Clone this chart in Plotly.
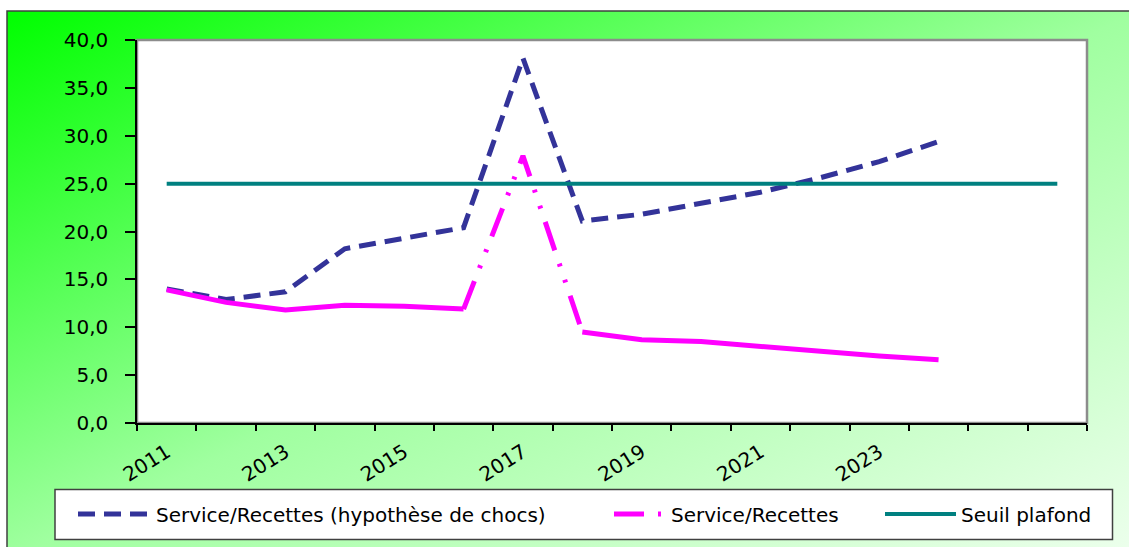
import base64
import plotly.graph_objects as go

# ---------------- data ----------------
years = [2011, 2012, 2013, 2014, 2015, 2016, 2017, 2018,
         2019, 2020, 2021, 2022, 2023, 2024, 2025, 2026]
tick_years = [2011, 2013, 2015, 2017, 2019, 2021, 2023]
tick_labels = ["2011", "2013", "2015", "2017", "2019", "2021", "2023"]

choc_years = [2011, 2012, 2013, 2014, 2015, 2016, 2017, 2018,
              2019, 2020, 2021, 2022, 2023, 2024]
service_chocs = [14.0, 12.9, 13.7, 18.2, 19.3, 20.4, 38.1, 21.1,
                 21.8, 23.0, 24.1, 25.6, 27.3, 29.4]
service_recettes = [13.9, 12.6, 11.8, 12.3, 12.2, 11.9, 27.9, 9.5,
                    8.7, 8.5, 8.0, 7.4, 7.0, 6.6]
seuil_plafond = [25.0, 25.0, 25.0, 25.0, 25.0, 25.0, 25.0, 25.0,
                 25.0, 25.0, 25.0, 25.0, 25.0, 25.0, 25.0, 25.0]

y_ticks = [0, 5, 10, 15, 20, 25, 30, 35, 40]

# ---------------- layout geometry ----------------
W, H = 1129, 547
ML, MR, MT, MB = 137, 42, 40, 124
PW, PH = W - ML - MR, H - MT - MB


def px_x(p):
    return (p - ML) / PW


def px_y(p):
    return (H - MB - p) / PH


idx = {y: i for i, y in enumerate(years)}
xc = [idx[y] for y in choc_years]
xs = [idx[y] for y in years]

FONT = "DejaVu Sans"
NAVY = "#333399"
PINK = "#FF00FF"
TEAL = "#008080"

fig = go.Figure()

fig.add_trace(go.Scatter(
    x=xc, y=service_chocs, mode="lines", name="Service/Recettes (hypothèse de chocs)",
    line=dict(color=NAVY, width=5, dash="17px,9px"), legend="legend",
))

# dash-dot part (around the shock) and solid parts of the same series
peak = choc_years.index(2017)
dashdot_y = [v if peak - 1 <= i <= peak + 1 else None for i, v in enumerate(service_recettes)]
solid_y = [None if i == peak else v for i, v in enumerate(service_recettes)]
fig.add_trace(go.Scatter(
    x=xc, y=solid_y, mode="lines", showlegend=False, connectgaps=False,
    line=dict(color=PINK, width=5), hoverinfo="skip",
))
fig.add_trace(go.Scatter(
    x=xc, y=dashdot_y, mode="lines", name="Service/Recettes", connectgaps=False,
    line=dict(color=PINK, width=5, dash="30px,14px,3px,14px,3px,14px"), legend="legend2",
))

fig.add_trace(go.Scatter(
    x=xs, y=seuil_plafond, mode="lines", name="Seuil plafond",
    line=dict(color=TEAL, width=4), legend="legend3",
))

# gradient background image (svg)
svg = ('<svg xmlns="http://www.w3.org/2000/svg" width="200" height="100" viewBox="0 0 200 100" '
       'preserveAspectRatio="none"><defs><linearGradient id="g" x1="0" y1="0" x2="1" y2="1">'
       '<stop offset="0" stop-color="#00ff00"/><stop offset="0.5" stop-color="#a0ffa0"/>'
       '<stop offset="1" stop-color="#eeffee"/></linearGradient></defs>'
       '<rect width="200" height="100" fill="url(#g)"/></svg>')
src = "data:image/svg+xml;base64," + base64.b64encode(svg.encode()).decode()

FX0, FY0, FX1, FY1 = 7, 11, 1140, 560
fig.add_layout_image(dict(
    source=src, xref="paper", yref="paper", x=px_x(FX0), y=px_y(FY0),
    sizex=px_x(FX1) - px_x(FX0), sizey=px_y(FY0) - px_y(FY1),
    sizing="stretch", xanchor="left", yanchor="top", layer="below",
))

shapes = [
    # outer frame border
    dict(type="rect", xref="paper", yref="paper", x0=px_x(FX0), x1=px_x(FX1),
         y0=px_y(FY1), y1=px_y(FY0), line=dict(color="#404040", width=1.5),
         fillcolor="rgba(0,0,0,0)", layer="below"),
    # plot area
    dict(type="rect", xref="paper", yref="paper", x0=0, x1=1, y0=0, y1=1,
         line=dict(color="#8c8c8c", width=2.5), fillcolor="white", layer="below"),
    # legend box
    dict(type="rect", xref="paper", yref="paper", x0=px_x(55), x1=px_x(1112.5),
         y0=px_y(539.5), y1=px_y(489.5), line=dict(color="#404040", width=1.5),
         fillcolor="white", layer="below"),
]

LEG_Y = px_y(514)
leg_common = dict(orientation="h", yref="paper", xref="paper", y=LEG_Y, yanchor="middle",
                  xanchor="left", bgcolor="rgba(0,0,0,0)", borderwidth=0,
                  font=dict(family=FONT, size=20, color="black"))

fig.update_layout(
    width=W, height=H,
    margin=dict(l=ML, r=MR, t=MT, b=MB, pad=0),
    paper_bgcolor="white", plot_bgcolor="rgba(0,0,0,0)",
    separators=", ",
    shapes=shapes,
    legend=dict(x=px_x(73), itemwidth=73, **leg_common),
    legend2=dict(x=px_x(609), itemwidth=52, **leg_common),
    legend3=dict(x=px_x(880), itemwidth=71, **leg_common),
    xaxis=dict(
        range=[-0.5, len(years) - 0.5], showgrid=False, zeroline=False,
        showline=True, linecolor="black", linewidth=1.5,
        tickvals=[idx[y] for y in tick_years], ticktext=tick_labels,
        ticks="", tickangle=-32, ticklabelstandoff=8,
        tickfont=dict(family=FONT, size=20, color="black"),
        minor=dict(tick0=-0.5, dtick=1, ticks="outside", ticklen=6,
                   tickcolor="black", tickwidth=1.5, showgrid=False),
    ),
    yaxis=dict(
        range=[0, 40], tickvals=y_ticks, tickformat=".1f", showgrid=False,
        zeroline=False, showline=True, linecolor="black", linewidth=1.5,
        ticks="outside", ticklen=10, tickcolor="black", tickwidth=1.5,
        ticklabelstandoff=13,
        tickfont=dict(family=FONT, size=20, color="black"),
    ),
)

fig.write_html("out.html", config={"displayModeBar": False},
               post_script="document.body.style.margin='0px';")
